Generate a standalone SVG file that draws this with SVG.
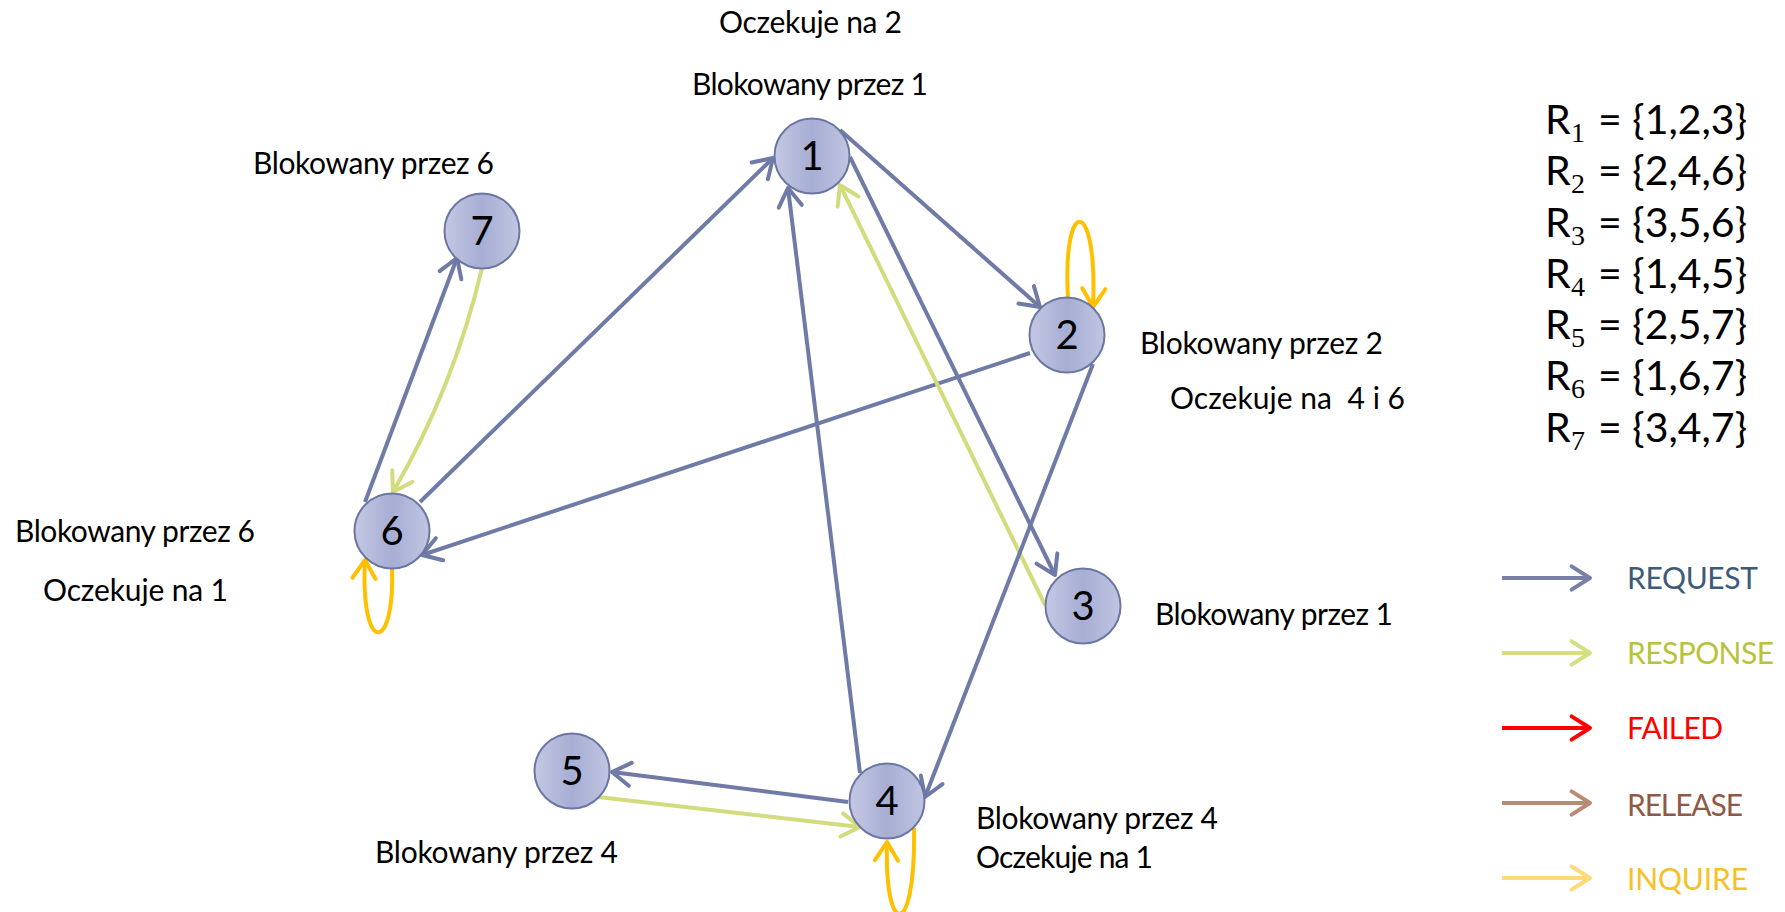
<svg xmlns="http://www.w3.org/2000/svg" width="1785" height="912" viewBox="0 0 1785 912">
  <style>
    .lbl { font-family: Lato, "Open Sans", "DejaVu Sans", sans-serif; font-size: 30px; fill: #000; white-space: pre; }
    .num { font-family: Lato, "Open Sans", "DejaVu Sans", sans-serif; font-size: 40px; fill: #000; text-anchor: middle; }
    .set { font-family: Lato, "Open Sans", "DejaVu Sans", sans-serif; font-size: 41px; fill: #000; }
    .sub { font-family: "Liberation Serif", "DejaVu Serif", serif; font-size: 28px; fill: #000; }
    .leg { font-family: Lato, "Open Sans", "DejaVu Sans", sans-serif; font-size: 30px; }
    .node { fill: url(#nodeFill); stroke: #6b76a3; stroke-width: 2; }
    .e { fill: none; stroke-width: 4; }
    .req { stroke: #6f7aa6; marker-end: url(#mReq); }
    .resp { stroke: #d3dc7c; marker-end: url(#mResp); }
    .inq { stroke: #ffc000; marker-end: url(#mInq); }
  </style>
  <defs>
    <linearGradient id="nodeFill" x1="0" y1="0" x2="1" y2="0">
      <stop offset="0" stop-color="#c4c8e3"/>
      <stop offset="0.5" stop-color="#a7aed4"/>
      <stop offset="1" stop-color="#c0c5e1"/>
    </linearGradient>
    <marker id="mReq" markerUnits="strokeWidth" orient="auto" overflow="visible" refX="0" refY="0">
      <path d="M-4.6,-2.9 L0,0 L-4.6,2.9" fill="none" stroke="#6f7aa6" stroke-width="1" stroke-linecap="round" stroke-linejoin="round"/>
    </marker>
    <marker id="mResp" markerUnits="strokeWidth" orient="auto" overflow="visible" refX="0" refY="0">
      <path d="M-4.6,-2.9 L0,0 L-4.6,2.9" fill="none" stroke="#d3dc7c" stroke-width="1" stroke-linecap="round" stroke-linejoin="round"/>
    </marker>
    <marker id="mInq" markerUnits="strokeWidth" orient="auto" overflow="visible" refX="0" refY="0">
      <path d="M-4.6,-2.9 L0,0 L-4.6,2.9" fill="none" stroke="#ffc000" stroke-width="1" stroke-linecap="round" stroke-linejoin="round"/>
    </marker>
    <marker id="mLReq" markerUnits="strokeWidth" orient="auto" overflow="visible" refX="0" refY="0">
      <path d="M-4.6,-2.9 L0,0 L-4.6,2.9" fill="none" stroke="#7680a8" stroke-width="1" stroke-linecap="round" stroke-linejoin="round"/>
    </marker>
    <marker id="mLResp" markerUnits="strokeWidth" orient="auto" overflow="visible" refX="0" refY="0">
      <path d="M-4.6,-2.9 L0,0 L-4.6,2.9" fill="none" stroke="#d6de84" stroke-width="1" stroke-linecap="round" stroke-linejoin="round"/>
    </marker>
    <marker id="mLFail" markerUnits="strokeWidth" orient="auto" overflow="visible" refX="0" refY="0">
      <path d="M-4.6,-2.9 L0,0 L-4.6,2.9" fill="none" stroke="#ff0000" stroke-width="1" stroke-linecap="round" stroke-linejoin="round"/>
    </marker>
    <marker id="mLRel" markerUnits="strokeWidth" orient="auto" overflow="visible" refX="0" refY="0">
      <path d="M-4.6,-2.9 L0,0 L-4.6,2.9" fill="none" stroke="#b98a74" stroke-width="1" stroke-linecap="round" stroke-linejoin="round"/>
    </marker>
    <marker id="mLInq" markerUnits="strokeWidth" orient="auto" overflow="visible" refX="0" refY="0">
      <path d="M-4.6,-2.9 L0,0 L-4.6,2.9" fill="none" stroke="#ffd97a" stroke-width="1" stroke-linecap="round" stroke-linejoin="round"/>
    </marker>
  </defs>

  <rect width="1785" height="912" fill="#ffffff"/>

  <!-- connectors -->
  <g id="connectors">
    <line class="e req" x1="420" y1="502" x2="773" y2="158"/>
    <line class="e req" x1="365" y1="502" x2="457" y2="258"/>
    <path class="e resp" d="M482,268 Q454,387 393,492"/>
    <line class="e req" x1="1030" y1="353" x2="422" y2="555"/>
    <line class="e req" x1="840" y1="130" x2="1040" y2="307"/>
    <line class="e req" x1="850" y1="157" x2="1055" y2="575"/>
    <line class="e resp" x1="1045" y1="605" x2="840" y2="185"/>
    <line class="e req" x1="860" y1="773" x2="788" y2="188"/>
    <line class="e req" x1="1093" y1="364" x2="925" y2="797"/>
    <line class="e req" x1="848" y1="802" x2="612" y2="772"/>
    <line class="e resp" x1="598" y1="797" x2="860" y2="827"/>
    <path class="e inq" d="M1068,298 C1062,195 1098,195 1093,307"/>
    <path class="e inq" d="M392,568 C395,655 360,655 365,560"/>
    <path class="e inq" d="M914,828 C916,940 884,940 887,842"/>
  </g>

  <!-- nodes -->
  <g id="node1"><circle class="node" cx="812" cy="156" r="37.5"/><text class="num" x="812" y="170">1</text></g>
  <g id="node2"><circle class="node" cx="1067" cy="335" r="37.5"/><text class="num" x="1067" y="349">2</text></g>
  <g id="node3"><circle class="node" cx="1083" cy="606" r="37.5"/><text class="num" x="1083" y="620">3</text></g>
  <g id="node4"><circle class="node" cx="887" cy="801" r="37.5"/><text class="num" x="887" y="815">4</text></g>
  <g id="node5"><circle class="node" cx="572" cy="771" r="37.5"/><text class="num" x="572" y="785">5</text></g>
  <g id="node6"><circle class="node" cx="392" cy="531" r="37.5"/><text class="num" x="392" y="545">6</text></g>
  <g id="node7"><circle class="node" cx="482" cy="231" r="37.5"/><text class="num" x="482" y="245">7</text></g>

  <!-- node state labels -->
  <g id="labels">
    <text class="lbl" x="719" y="33" textLength="183">Oczekuje na 2</text>
    <text class="lbl" x="692" y="95" textLength="236">Blokowany przez 1</text>
    <text class="lbl" x="253" y="174" textLength="241">Blokowany przez 6</text>
    <text class="lbl" x="1140" y="354" textLength="243">Blokowany przez 2</text>
    <text class="lbl" x="1170" y="409" textLength="235">Oczekuje na  4 i 6</text>
    <text class="lbl" x="15" y="542" textLength="240">Blokowany przez 6</text>
    <text class="lbl" x="43" y="601" textLength="185">Oczekuje na 1</text>
    <text class="lbl" x="1155" y="625" textLength="238">Blokowany przez 1</text>
    <text class="lbl" x="976" y="829" textLength="242">Blokowany przez 4</text>
    <text class="lbl" x="976" y="868" textLength="177">Oczekuje na 1</text>
    <text class="lbl" x="375" y="863" textLength="243">Blokowany przez 4</text>
  </g>

  <!-- quorum sets -->
  <g id="quorums">
    <text class="set" x="1545" y="134">R</text><text class="sub" x="1571" y="142">1</text><text class="set" x="1598" y="134" textLength="149">= {1,2,3}</text>
    <text class="set" x="1545" y="185">R</text><text class="sub" x="1571" y="193">2</text><text class="set" x="1598" y="185" textLength="149">= {2,4,6}</text>
    <text class="set" x="1545" y="237">R</text><text class="sub" x="1571" y="245">3</text><text class="set" x="1598" y="237" textLength="149">= {3,5,6}</text>
    <text class="set" x="1545" y="288">R</text><text class="sub" x="1571" y="296">4</text><text class="set" x="1598" y="288" textLength="149">= {1,4,5}</text>
    <text class="set" x="1545" y="339">R</text><text class="sub" x="1571" y="347">5</text><text class="set" x="1598" y="339" textLength="149">= {2,5,7}</text>
    <text class="set" x="1545" y="390">R</text><text class="sub" x="1571" y="398">6</text><text class="set" x="1598" y="390" textLength="149">= {1,6,7}</text>
    <text class="set" x="1545" y="442">R</text><text class="sub" x="1571" y="450">7</text><text class="set" x="1598" y="442" textLength="149">= {3,4,7}</text>
  </g>

  <!-- legend -->
  <g id="legend">
    <line x1="1502" y1="578" x2="1590" y2="578" stroke="#7680a8" stroke-width="4" marker-end="url(#mLReq)"/>
    <text class="leg" x="1627" y="589" fill="#3e5a79" textLength="131">REQUEST</text>
    <line x1="1502" y1="653" x2="1590" y2="653" stroke="#d6de84" stroke-width="4" marker-end="url(#mLResp)"/>
    <text class="leg" x="1627" y="664" fill="#b7c33a" textLength="147">RESPONSE</text>
    <line x1="1502" y1="728" x2="1590" y2="728" stroke="#ff0000" stroke-width="4" marker-end="url(#mLFail)"/>
    <text class="leg" x="1627" y="739" fill="#ff0000" textLength="96">FAILED</text>
    <line x1="1502" y1="803" x2="1590" y2="803" stroke="#b98a74" stroke-width="4" marker-end="url(#mLRel)"/>
    <text class="leg" x="1627" y="816" fill="#8e5a47" textLength="116">RELEASE</text>
    <line x1="1502" y1="878" x2="1590" y2="878" stroke="#ffd97a" stroke-width="4" marker-end="url(#mLInq)"/>
    <text class="leg" x="1627" y="890" fill="#f5c128" textLength="121">INQUIRE</text>
  </g>
</svg>
